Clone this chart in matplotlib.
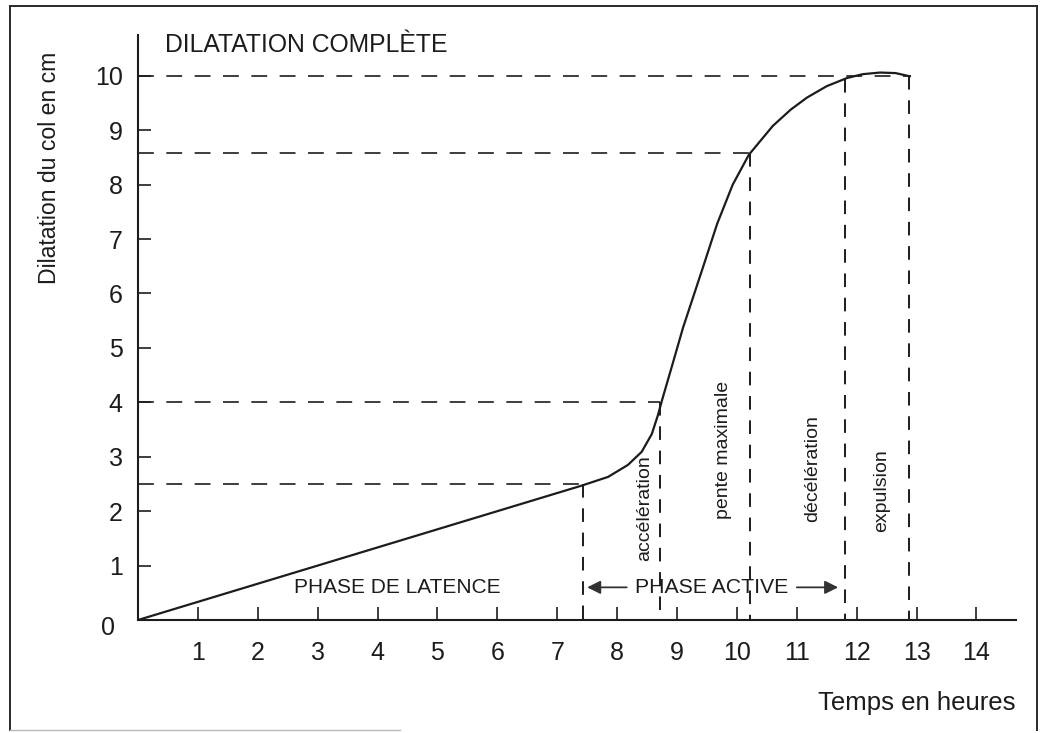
import matplotlib
matplotlib.use("Agg")
import matplotlib.pyplot as plt
from matplotlib.lines import Line2D

plt.rcParams['font.family'] = ['Liberation Sans', 'DejaVu Sans']

# ---- data ----
hours = [0, 7.41, 7.85, 8.18, 8.41, 8.58, 8.68, 8.75, 8.93, 9.1, 9.43, 9.67,
         9.93, 10.2, 10.6, 10.9, 11.17, 11.5, 11.84, 12.1, 12.39, 12.65, 12.89]
dilatation = [0, 2.47, 2.63, 2.85, 3.09, 3.42, 3.76, 4.04, 4.72, 5.37, 6.47, 7.28,
              8.0, 8.55, 9.08, 9.38, 9.6, 9.81, 9.96, 10.03, 10.06, 10.05, 9.99]

x_ticks = list(range(1, 15))
y_ticks = list(range(1, 11))

# reference levels (horizontal dashed lines) and their end times
ref_levels = [2.5, 4.0, 8.58, 10.0]
ref_level_ends = [7.43, 8.72, 10.22, 12.9]
# phase boundaries (vertical dashed lines) and their tops
phase_times = [7.43, 8.72, 10.22, 11.8, 12.88]
phase_tops = [2.5, 4.0, 8.58, 9.95, 10.0]

phase_names = ['accélération', 'pente maximale', 'décélération', 'expulsion']

# ---- figure ----
W, H = 1042, 733
fig = plt.figure(figsize=(W / 100, H / 100), dpi=100)
ax = fig.add_axes([138 / W, (H - 620) / H, 878 / W, 585 / H])
ax.set_xlim(0, 14.66)
ax.set_ylim(0, 10.75)

ink = '#1c1c1c'
for s in ['top', 'right']:
    ax.spines[s].set_visible(False)
for s in ['left', 'bottom']:
    ax.spines[s].set_linewidth(1.5)
    ax.spines[s].set_color(ink)

ax.set_xticks(x_ticks)
ax.set_xticklabels([str(v) for v in x_ticks])
ax.set_yticks(y_ticks)
ax.set_yticklabels([str(v) for v in y_ticks])
ax.tick_params(axis='both', direction='in', length=9.5, width=1.2, color=ink,
               labelsize=18, labelcolor=ink)
ax.tick_params(axis='x', pad=15)
ax.tick_params(axis='y', pad=11)
ax.text(-0.38, -0.15, '0', ha='right', va='center', fontsize=18, color=ink,
        clip_on=False)

# curve
ax.plot(hours, dilatation, color=ink, lw=1.6, solid_capstyle='round',
        solid_joinstyle='round', zorder=3)

# dashed reference lines
for lvl, end in zip(ref_levels, ref_level_ends):
    ax.plot([0, end], [lvl, lvl], color=ink, lw=1.2,
            linestyle=(0, (9.5, 7.5)), zorder=2)
for t, top in zip(phase_times, phase_tops):
    ax.plot([t, t], [top, 0], color=ink, lw=1.4,
            linestyle=(0, (7.0, 5.5)), zorder=2)

# rotated phase labels
label_x = [8.46, 9.77, 11.27, 12.42]
label_y = [2.06, 3.13, 2.79, 2.37]
for name, lx, ly in zip(phase_names, label_x, label_y):
    ax.text(lx, ly, name, rotation=90, ha='center', va='center',
            fontsize=14, color=ink)

ax.text(0.45, 10.57, 'DILATATION COMPLÈTE', ha='left', va='center',
        fontsize=17.8, color=ink)
ax.text(4.33, 0.59, 'PHASE DE LATENCE', ha='center', va='center',
        fontsize=15, color=ink)
ax.text(9.58, 0.6, 'PHASE ACTIVE', ha='center', va='center',
        fontsize=15.3, color=ink)
arrow_kw = dict(arrowstyle='-|>', color='#333333', lw=1.3, mutation_scale=20,
                shrinkA=0, shrinkB=0)
ax.annotate('', xy=(7.5, 0.6), xytext=(8.16, 0.6), arrowprops=arrow_kw)
ax.annotate('', xy=(11.69, 0.6), xytext=(11.0, 0.6), arrowprops=arrow_kw)

# axis titles
fig.text(50 / W, 1 - 168 / H, 'Dilatation du col en cm', rotation=90,
         ha='center', va='center', fontsize=16.6, color=ink)
fig.text(1015 / W, 1 - 703 / H, 'Temps en heures', ha='right', va='center',
         fontsize=18.5, color=ink)

# outer frame
def fx(px):
    return px / W

def fy(py):
    return 1 - py / H

frame = [((10, 6), (10, 730)), ((10, 6), (1037, 6)), ((1037, 6), (1037, 730))]
for (x0, y0), (x1, y1) in frame:
    fig.add_artist(Line2D([fx(x0), fx(x1)], [fy(y0), fy(y1)], color='#2a2a2a',
                          lw=1.4))
fig.add_artist(Line2D([fx(10), fx(400)], [fy(730), fy(730)], color='#bbbbbb',
                      lw=1.0))

fig.savefig('out.png', dpi=100, facecolor='white')
